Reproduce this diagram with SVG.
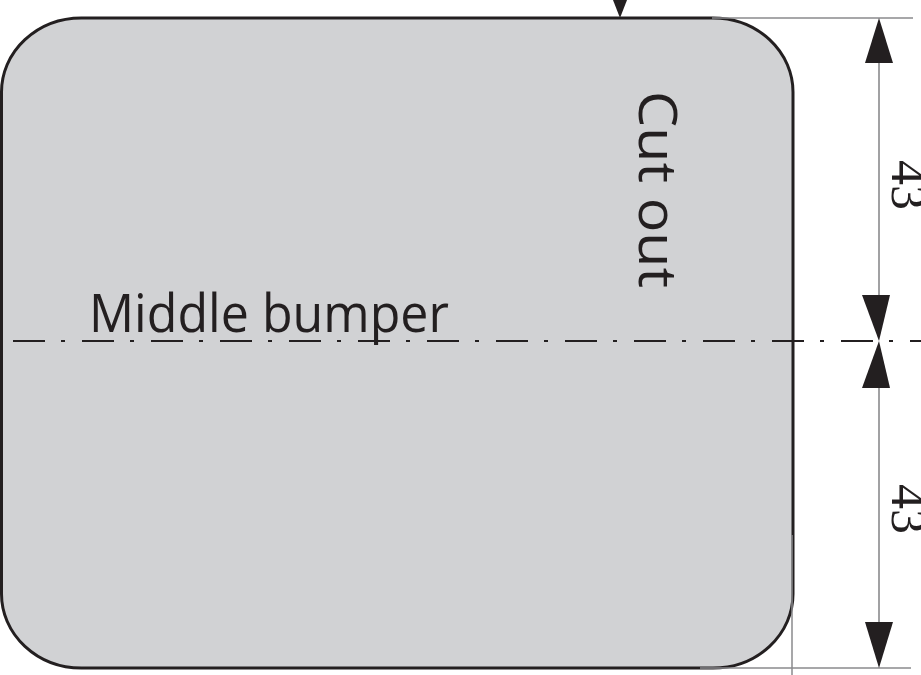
<svg xmlns="http://www.w3.org/2000/svg" width="921" height="675" viewBox="0 0 921 675">
<style>
.body{fill:#D1D2D4;stroke:#231F20;stroke-width:3}
.ext{stroke:#8A8A8C;stroke-width:1.5;fill:none}
.dim{stroke:#8A8A8C;stroke-width:1.6;fill:none}
.ctr{stroke:#231F20;stroke-width:2;fill:none;stroke-dasharray:32 16 4 17}
.ah{fill:#231F20}
.lbl{font-family:"Open Sans","Noto Sans","Liberation Sans",sans-serif;font-size:53px;fill:#231F20}
.num{font-family:"Liberation Serif","DejaVu Serif",serif;font-size:50px;fill:#231F20}
</style>
<rect width="921" height="675" fill="#FFFFFF"/>
<g id="bumper">
<rect class="body" x="1.5" y="18" width="791.5" height="650" rx="80" ry="74"/>
</g>
<g id="connectors">
<line class="ext" x1="712" y1="18" x2="913" y2="18"/>
<line class="ext" x1="700" y1="668" x2="911" y2="668"/>
<line class="ext" x1="792" y1="535" x2="792" y2="675"/>
<line class="dim" x1="879" y1="60" x2="879" y2="297"/>
<line class="dim" x1="879" y1="386" x2="879" y2="624"/>
<line class="ctr" x1="13" y1="341" x2="921" y2="341"/>
<polygon class="ah" points="613,0 627,0 620,18"/>
<polygon class="ah" points="879,18 865,63 893,63"/>
<polygon class="ah" points="879,341 862,295 890,295"/>
<polygon class="ah" points="879,341 862,388 890,388"/>
<polygon class="ah" points="879,668 865,622 893,622"/>
</g>
<g id="label-middle">
<text class="lbl" x="89" y="332" textLength="360" lengthAdjust="spacingAndGlyphs">Middle bumper</text>
</g>
<g id="label-cutout">
<text class="lbl" transform="translate(639,91) rotate(90)" x="0" y="0" textLength="197" lengthAdjust="spacingAndGlyphs">Cut out</text>
</g>
<g id="dim-upper">
<text class="num" transform="translate(892,160) rotate(90)" x="0" y="0">43</text>
</g>
<g id="dim-lower">
<text class="num" transform="translate(892,484) rotate(90)" x="0" y="0">43</text>
</g>
</svg>
